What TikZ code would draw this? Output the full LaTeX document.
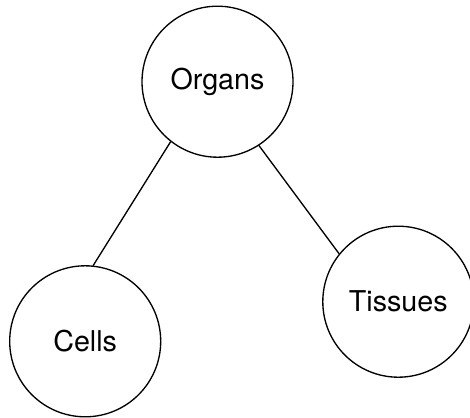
\documentclass[tikz,border=0pt]{standalone}
\usepackage{fontspec}
\setmainfont{TeX Gyre Heros}
\usepackage{tikz}

\begin{document}
\begin{tikzpicture}[x=0.6pt, y=-0.6pt, line width=0.8pt,
    level/.style={circle, draw, minimum size=90.6pt, inner sep=0pt,
      font=\fontsize{17.2}{20}\selectfont}]
      \useasboundingbox (0,0) rectangle (470,417);
      \node[level] (organs) at (217.5,81.7) {Organs};
      \node[level] (cells) at (85.2,341.3) {Cells};
      \node[level] (tissues) at (398.3,301.7) {Tissues};
      \draw (organs.232.5) -- (cells.84.3);
      \draw (organs.303.2) -- (tissues.141);
    \end{tikzpicture}
\end{document}
